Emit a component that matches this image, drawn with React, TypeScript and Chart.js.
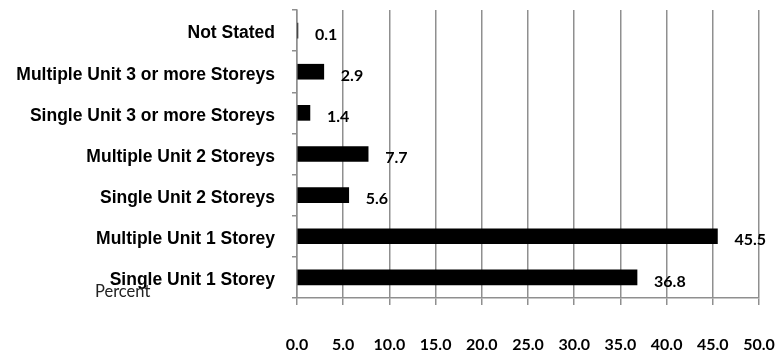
import React, { useEffect, useRef } from "react";
import { Chart, registerables } from "chart.js";

Chart.register(...registerables);

// Dwelling structure, share of dwellings (%)
const categories: string[] = [
  "Not Stated",
  "Multiple Unit 3 or more Storeys",
  "Single Unit 3 or more Storeys",
  "Multiple Unit 2 Storeys",
  "Single Unit 2 Storeys",
  "Multiple Unit 1 Storey",
  "Single Unit 1 Storey",
];
const percents: number[] = [0.1, 2.9, 1.4, 7.7, 5.6, 45.5, 36.8];
const axisMin = 0;
const axisMax = 50;
const axisStep = 5;
const axisTitle = "Percent";

const gridGray = "#8f8f8f";
const numberFont = "Lato, 'Open Sans', sans-serif";

// Writes each bar's value just past its end
const valueLabels = {
  id: "valueLabels",
  afterDatasetsDraw(chart: any) {
    const ctx = chart.ctx;
    const meta = chart.getDatasetMeta(0);
    ctx.save();
    ctx.font = `bold 16px ${numberFont}`;
    ctx.fillStyle = "#000";
    ctx.textAlign = "left";
    ctx.textBaseline = "middle";
    meta.data.forEach((bar: any, i: number) => {
      ctx.fillText(percents[i].toFixed(1), bar.x + 17, bar.y + 4);
    });
    ctx.restore();
  },
};

// Axis title sitting low in the left margin
const percentTitle = {
  id: "percentTitle",
  afterDraw(chart: any) {
    const ctx = chart.ctx;
    ctx.save();
    ctx.font = `16.5px ${numberFont}`;
    ctx.fillStyle = "#222";
    ctx.textAlign = "left";
    ctx.textBaseline = "alphabetic";
    ctx.fillText(axisTitle, 95, chart.chartArea.bottom - 1);
    ctx.restore();
  },
};

export default function App() {
  const canvasRef = useRef<HTMLCanvasElement | null>(null);

  useEffect(() => {
    document.body.style.margin = "0";
    const canvas = canvasRef.current;
    if (!canvas) return;
    const chart = new Chart(canvas, {
      type: "bar",
      data: {
        labels: categories,
        datasets: [
          {
            data: percents,
            backgroundColor: "#000",
            borderWidth: 0,
            barThickness: 15,
          },
        ],
      },
      options: {
        indexAxis: "y",
        responsive: false,
        animation: false,
        layout: { padding: { top: 10, right: 21, left: 0, bottom: 0 } },
        plugins: {
          legend: { display: false },
          tooltip: { enabled: false },
          title: { display: false },
        },
        scales: {
          x: {
            type: "linear",
            min: axisMin,
            max: axisMax,
            afterFit(scale: any) {
              scale.height = 54;
              scale.paddingLeft = 0;
              scale.paddingRight = 0;
            },
            ticks: {
              stepSize: axisStep,
              callback: (v: any) => Number(v).toFixed(1),
              color: "#000",
              padding: 30,
              font: { family: numberFont, size: 16, weight: "bold" },
            },
            grid: {
              color: gridGray,
              lineWidth: 1.5,
              drawTicks: true,
              tickLength: 7,
            },
            border: { color: gridGray, width: 1.5 },
          },
          y: {
            type: "category",
            afterFit(scale: any) {
              scale.width = 297;
              scale.paddingTop = 0;
              scale.paddingBottom = 0;
            },
            ticks: {
              color: "#000",
              padding: 17,
              labelOffset: 3,
              font: { family: "'Liberation Sans', Arial, sans-serif", size: 17.5, weight: "bold" },
            },
            grid: {
              color: gridGray,
              lineWidth: 1.5,
              drawOnChartArea: false,
              drawTicks: true,
              tickLength: 5,
              offset: true,
            },
            border: { color: gridGray, width: 1.5 },
          },
        },
      },
      plugins: [valueLabels, percentTitle],
    });
    return () => chart.destroy();
  }, []);

  return <canvas ref={canvasRef} width={780} height={352} style={{ display: "block" }} />;
}
